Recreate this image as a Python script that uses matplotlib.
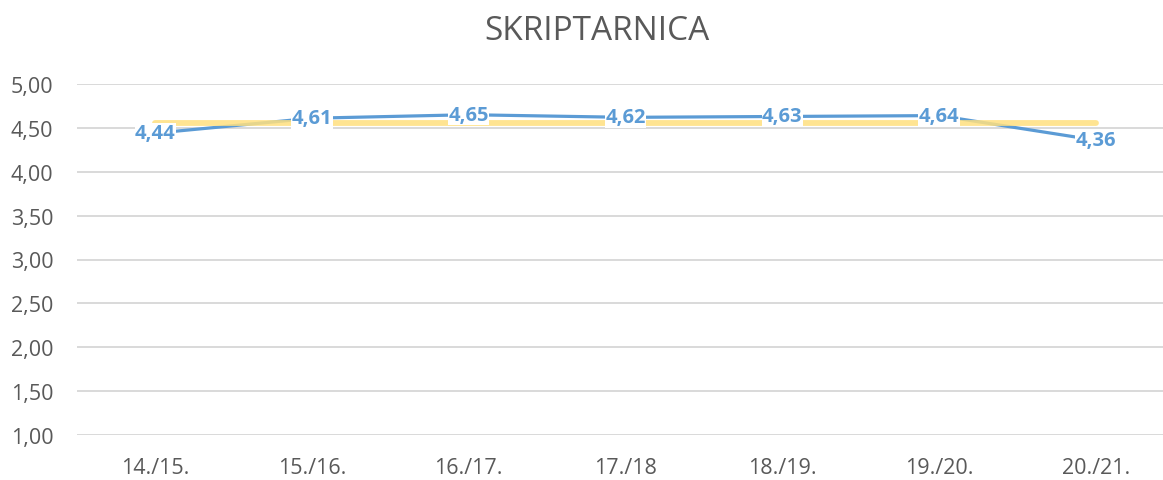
import matplotlib
matplotlib.use("Agg")
import matplotlib.pyplot as plt

# data
years = ["14./15.", "15./16.", "16./17.", "17./18", "18./19.", "19./20.", "20./21."]
scores = [4.44, 4.61, 4.65, 4.62, 4.63, 4.64, 4.36]
average = [4.56, 4.56, 4.56, 4.56, 4.56, 4.56, 4.56]
yticks = [1.0, 1.5, 2.0, 2.5, 3.0, 3.5, 4.0, 4.5, 5.0]

BLUE = "#5B9BD5"
YELLOW = "#FFE07F"
GREY_TXT = "#595959"
GRID = "#D9D9D9"

plt.rcParams["font.family"] = ["Open Sans", "DejaVu Sans"]

fig = plt.figure(figsize=(11.63, 4.81), dpi=100)
ax = fig.add_axes([77 / 1163, 45 / 481, 1097 / 1163, 351 / 481])

x = list(range(len(years)))
ax.plot(x, scores, color=BLUE, lw=2.3, zorder=2, solid_capstyle="round")
ax.plot(x, average, color=YELLOW, lw=4.2, alpha=0.85, zorder=3, solid_capstyle="round")

for xi, v in zip(x, scores):
    ax.text(xi, v, f"{v:.2f}".replace(".", ","), ha="center", va="center",
            fontsize=14.5, fontweight="bold", color=BLUE, zorder=5,
            bbox=dict(facecolor="white", edgecolor="none", pad=0.3))

ax.set_xlim(-0.5, len(years) - 0.5)
ax.set_ylim(1.0, 5.0)
ax.set_yticks(yticks)
ax.set_yticklabels([f"{t:.2f}".replace(".", ",") for t in yticks])
ax.set_xticks(x)
ax.set_xticklabels(years)
ax.tick_params(axis="both", length=0, labelsize=15.5, colors=GREY_TXT)
ax.tick_params(axis="y", pad=17)
ax.tick_params(axis="x", pad=16)

ax.grid(axis="y", color=GRID, lw=1.4, zorder=0)
ax.set_axisbelow(True)
for s in ax.spines.values():
    s.set_visible(False)

fig.text(597 / 1163, 1 - 31 / 481, "SKRIPTARNICA", ha="center", va="center",
         fontsize=24, color=GREY_TXT)

fig.savefig("out.png", dpi=100)
